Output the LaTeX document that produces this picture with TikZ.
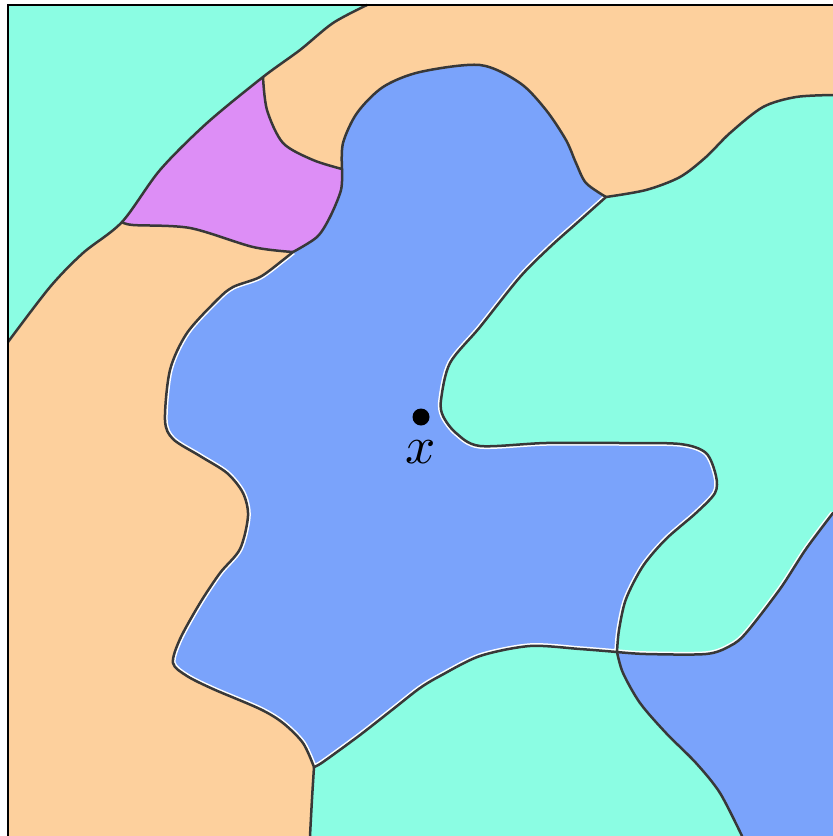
\documentclass[tikz,border=0pt]{standalone}
\usepackage{tikz}
\usetikzlibrary{positioning}
\definecolor{mapCyan}{HTML}{8BFDE3}
\definecolor{mapPeach}{HTML}{FDD09D}
\definecolor{mapBlue}{HTML}{7AA3FB}
\definecolor{mapPink}{HTML}{DD8EF6}

\begin{document}
\begin{tikzpicture}[x=1pt, y=-1pt,
  border/.style={draw=black!78, line width=2.5pt, line cap=round, line join=round},
  halo/.style={draw=white, line width=5.5pt},
  frame/.style={draw=black, line width=2pt},
  dot/.style={circle, fill=black, inner sep=0pt, minimum size=17pt}
]
  \useasboundingbox (0,0) rectangle (833,836);
  \fill[mapPeach] (8,5) rectangle (833,836);
  % pink piece, pushed under the top-left sea
  \fill[mapPink] (263,77) -- (230,50) -- (90,210) -- (122,222)
        -- plot[smooth] coordinates {(122,222) (133,225) (190,228) (253,247) (293,252)}
        -- plot[smooth] coordinates {(293,252) (317,237) (330,217) (341,190) (342,169)}
        -- plot[smooth] coordinates {(342,169) (313,160) (283,143) (267,110) (263,77)} -- cycle;
  % top-left sea
  \fill[mapCyan] (8,5) -- plot[smooth] coordinates {(367,5) (333,23) (300,50) (263,77) (207,123)
        (160,170) (122,222) (83,253) (50,287) (8,342)} -- cycle;
  % right and bottom sea, closed through the main land
  \fill[mapCyan] plot[smooth] coordinates {(606,197) (646,190) (680,177) (706,157) (730,133) (763,107) (796,97) (833,95)}
        -- (833,836) -- (310,836)
        -- plot[smooth] coordinates {(310,836) (312,799) (314,767)}
        -- (300,600) -- (380,430) -- (420,340) -- (500,260) -- cycle;
  % bottom-right land
  \fill[mapBlue] plot[smooth] coordinates {(617,652) (623,673) (640,703) (666,733) (696,763) (720,793) (742,836)}
        -- (833,836)
        -- plot[smooth] coordinates {(833,513) (806,549) (780,589) (746,633) (730,646) (706,654) (646,654) (617,652)} -- cycle;
  % main land
  \fill[mapBlue, save path=\bluepath]
        plot[smooth] coordinates {(342,169) (343,143) (357,113) (383,87) (420,72) (480,65) (520,83)
          (546,110) (566,140) (576,163) (586,183) (606,197)}
        -- plot[smooth] coordinates {(606,197) (578,222) (550,247) (520,277) (480,327) (450,363) (441,400)
          (443,416) (456,433) (480,446) (546,443) (620,443) (680,444) (706,453) (716,476) (715,493)
          (696,513) (666,539) (643,566) (626,599) (619,630) (617,652)}
        -- plot[smooth] coordinates {(617,652) (580,649) (530,646) (480,656) (440,676) (420,688) (397,706)
          (360,735) (323,762) (314,767)}
        -- plot[smooth] coordinates {(314,767) (303,743) (283,723) (260,709) (213,689) (187,676) (173,663)
          (180,639) (200,603) (220,573) (240,549) (248,516) (243,493) (227,473) (200,456) (173,439)
          (165,420) (170,370) (187,333) (217,300) (233,287) (260,277) (283,260) (293,252)}
        -- plot[smooth] coordinates {(293,252) (317,237) (330,217) (341,190) (342,169)} -- cycle;

  % white edge inside the main land
  \begin{scope}
    \clip[use path=\bluepath];
    \draw[halo] plot[smooth] coordinates {(606,197) (578,222) (550,247) (520,277) (480,327) (450,363) (441,400)
          (443,416) (456,433) (480,446) (546,443) (620,443) (680,444) (706,453) (716,476) (715,493)
          (696,513) (666,539) (643,566) (626,599) (619,630) (617,652)}
        -- plot[smooth] coordinates {(617,652) (580,649) (530,646) (480,656) (440,676) (420,688) (397,706)
          (360,735) (323,762) (314,767)}
        -- plot[smooth] coordinates {(314,767) (303,743) (283,723) (260,709) (213,689) (187,676) (173,663)
          (180,639) (200,603) (220,573) (240,549) (248,516) (243,493) (227,473) (200,456) (173,439)
          (165,420) (170,370) (187,333) (217,300) (233,287) (260,277) (283,260) (293,252)};
  \end{scope}
  \begin{scope}
    \clip plot[smooth] coordinates {(617,652) (646,654) (706,654) (730,646) (746,633) (780,589) (806,549) (833,513)}
        -- (833,300) -- (622,560) -- cycle;
    \draw[halo] plot[smooth] coordinates {(617,652) (646,654) (706,654) (730,646) (746,633) (780,589) (806,549) (833,513)};
  \end{scope}

  % borders
  \draw[border] plot[smooth] coordinates {(367,5) (333,23) (300,50) (263,77) (207,123) (160,170)
        (122,222) (83,253) (50,287) (8,342)};
  \draw[border] plot[smooth] coordinates {(263,77) (267,110) (283,143) (313,160) (342,169)};
  \draw[border] plot[smooth] coordinates {(122,222) (133,225) (190,228) (253,247) (293,252)};
  \draw[border] plot[smooth] coordinates {(293,252) (317,237) (330,217) (341,190) (342,169)};
  \draw[border] plot[smooth] coordinates {(342,169) (343,143) (357,113) (383,87) (420,72) (480,65) (520,83)
        (546,110) (566,140) (576,163) (586,183) (606,197)};
  \draw[border] plot[smooth] coordinates {(606,197) (646,190) (680,177) (706,157) (730,133) (763,107) (796,97) (833,95)};
  \draw[border] plot[smooth] coordinates {(606,197) (578,222) (550,247) (520,277) (480,327) (450,363) (441,400)
          (443,416) (456,433) (480,446) (546,443) (620,443) (680,444) (706,453) (716,476) (715,493)
          (696,513) (666,539) (643,566) (626,599) (619,630) (617,652)}
        -- plot[smooth] coordinates {(617,652) (580,649) (530,646) (480,656) (440,676) (420,688) (397,706)
          (360,735) (323,762) (314,767)}
        -- plot[smooth] coordinates {(314,767) (303,743) (283,723) (260,709) (213,689) (187,676) (173,663)
          (180,639) (200,603) (220,573) (240,549) (248,516) (243,493) (227,473) (200,456) (173,439)
          (165,420) (170,370) (187,333) (217,300) (233,287) (260,277) (283,260) (293,252)};
  \draw[border] plot[smooth] coordinates {(617,652) (646,654) (706,654) (730,646) (746,633) (780,589) (806,549) (833,513)};
  \draw[border] plot[smooth] coordinates {(617,652) (623,673) (640,703) (666,733) (696,763) (720,793) (742,836)};
  \draw[border] plot[smooth] coordinates {(314,767) (312,799) (310,836)};
  \draw[frame] (8,836) -- (8,5) -- (833,5);

  \node[dot] (pt) at (421,417) {};
  \node[below=14pt of pt, inner sep=0pt, scale=5.3] (lbl) {$x$};
\end{tikzpicture}
\end{document}
